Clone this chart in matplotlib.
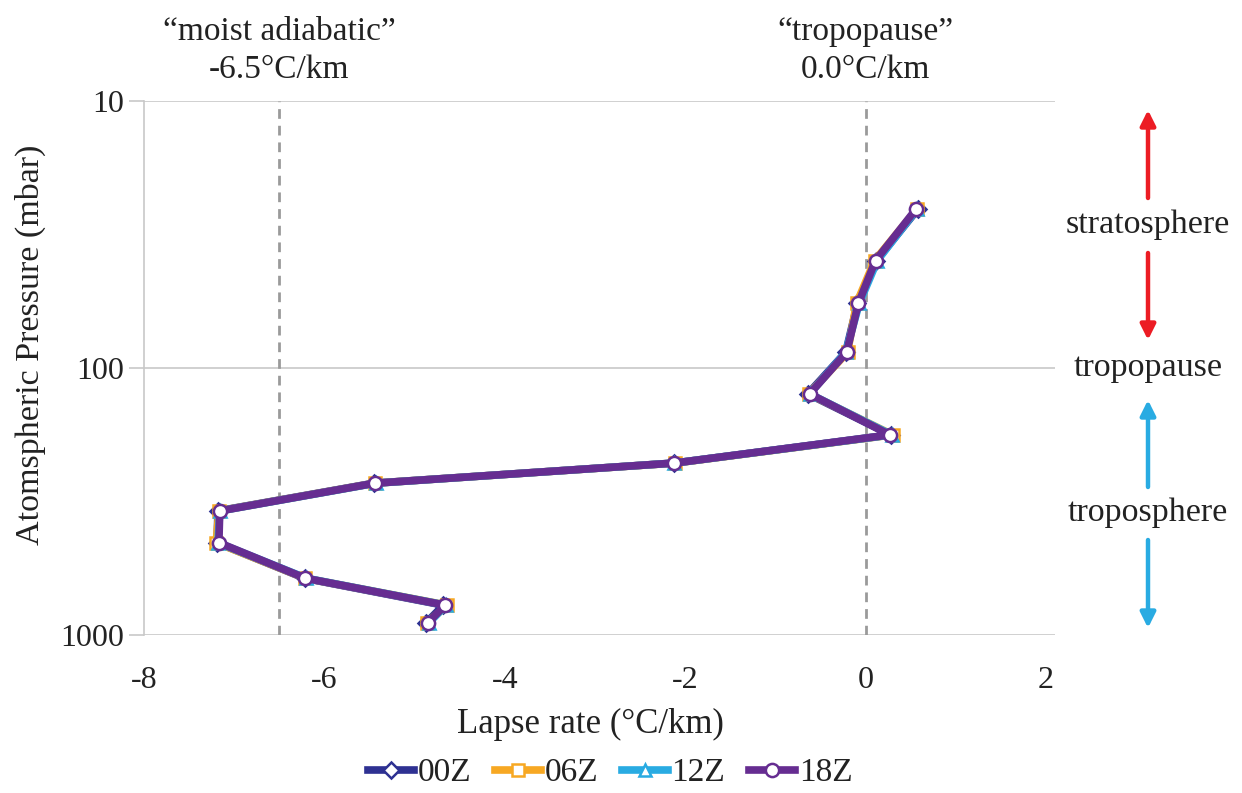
import matplotlib
matplotlib.use("Agg")
import matplotlib.pyplot as plt
from matplotlib.patches import FancyArrowPatch
from matplotlib.ticker import FixedLocator, NullLocator, FixedFormatter

plt.rcParams['font.family'] = ['Liberation Serif', 'DejaVu Serif']

# Pressure levels (mbar) and lapse rates (°C/km) for each synoptic hour
pressure = [25.4, 39.6, 57.3, 87.3, 125, 178, 227, 270, 343, 451, 613, 773, 899]
lapse_00z = [0.58, 0.12, -0.09, -0.22, -0.64, 0.28, -2.12, -5.45, -7.18, -7.19, -6.22, -4.68, -4.87]
lapse_06z = [0.57, 0.10, -0.10, -0.20, -0.63, 0.30, -2.11, -5.44, -7.17, -7.20, -6.21, -4.64, -4.86]
lapse_12z = [0.57, 0.13, -0.07, -0.22, -0.62, 0.29, -2.12, -5.43, -7.16, -7.18, -6.20, -4.65, -4.84]
lapse_18z = [0.56, 0.11, -0.08, -0.21, -0.62, 0.27, -2.12, -5.44, -7.16, -7.17, -6.21, -4.66, -4.85]

series_names = ["00Z", "06Z", "12Z", "18Z"]
series_values = [lapse_00z, lapse_06z, lapse_12z, lapse_18z]
series_colors = ["#2e3192", "#f7a823", "#29abe2", "#662d91"]
series_markers = ["D", "s", "^", "o"]
marker_sizes = [8, 8, 8, 9.5]

x_ticks = [-8, -6, -4, -2, 0, 2]
y_ticks = [10, 100, 1000]
moist_adiabatic = -6.5
tropopause_rate = 0.0

W, H = 1242, 793


def fy(py):
    return 1 - py / H


fig = plt.figure(figsize=(W / 100, H / 100), dpi=100)
ax = fig.add_axes([144 / W, fy(635), (1055 - 144) / W, (635 - 101) / H])

ax.set_yscale('log')
ax.set_ylim(1000, 10)
ax.set_xlim(-8, 2.1)

# horizontal gridlines at each decade
for yv in y_ticks:
    ax.axhline(yv, color='#c8c8c8', lw=1.2, zorder=0)

# reference lapse rates
for xv in (moist_adiabatic, tropopause_rate):
    ax.axvline(xv, color='#9a9a9a', lw=2.0, ls=(0, (3.5, 2.5)), zorder=1)

for name, vals, col, mk, ms in zip(series_names, series_values, series_colors,
                                   series_markers, marker_sizes):
    ax.plot(vals, pressure, color=col, lw=5.5, marker=mk, ms=ms,
            mfc='white', mec=col, mew=1.8, label=name, zorder=3,
            solid_joinstyle='round')

for s in ['top', 'right', 'bottom']:
    ax.spines[s].set_visible(False)
ax.spines['left'].set_color('#c8c8c8')
ax.spines['left'].set_linewidth(1.2)

ax.yaxis.set_major_locator(FixedLocator(y_ticks))
ax.yaxis.set_major_formatter(FixedFormatter([str(v) for v in y_ticks]))
ax.yaxis.set_minor_locator(NullLocator())
ax.tick_params(axis='y', which='major', length=11, width=1.2, color='#c8c8c8',
               labelsize=23, pad=3, labelcolor='#222222')
ax.set_xticks(x_ticks)
ax.set_xticklabels([str(v) for v in x_ticks])
ax.tick_params(axis='x', length=0, labelsize=23, pad=22, labelcolor='#222222')

ax.set_xlabel("Lapse rate (°C/km)", fontsize=25, color='#222222')
ax.xaxis.set_label_coords(590 / W, fy(708), transform=fig.transFigure)
ax.set_ylabel("Atomspheric Pressure (mbar)", fontsize=24.5, color='#222222')
ax.yaxis.set_label_coords(46 / W, fy(345), transform=fig.transFigure)

# labels for the reference lines
ax.text(moist_adiabatic, 1.03, "\u201cmoist adiabatic\u201d\n-6.5°C/km",
        transform=ax.get_xaxis_transform(), ha='center', va='bottom',
        fontsize=24, linespacing=1.3, color='#222222')
ax.text(tropopause_rate, 1.03, "\u201ctropopause\u201d\n0.0°C/km",
        transform=ax.get_xaxis_transform(), ha='center', va='bottom',
        fontsize=24, linespacing=1.3, color='#222222')

# atmospheric layer annotations on the right
xa = 1148 / W

for label, py in (("stratosphere", 225), ("tropopause", 368), ("troposphere", 513)):
    fig.text(xa, fy(py), label, ha='center', va='center', fontsize=24.5, color='#222222')


def arrow(y_from, y_to, color):
    fig.add_artist(FancyArrowPatch(
        (xa, fy(y_from)), (xa, fy(y_to)), transform=fig.transFigure,
        arrowstyle='-|>,head_length=9,head_width=4.5', color=color, lw=3.2,
        shrinkA=0, shrinkB=0))


arrow(198, 110, '#ec1c24')
arrow(253, 340, '#ec1c24')
arrow(487, 400, '#29abe2')
arrow(540, 628, '#29abe2')

leg = ax.legend(loc='center', bbox_to_anchor=(610 / W, fy(773)),
                bbox_transform=fig.transFigure,
                ncol=4, frameon=False, fontsize=24, handlelength=1.4,
                columnspacing=0.7, handletextpad=0.1, borderpad=0)
for t in leg.get_texts():
    t.set_color('#222222')

fig.savefig("out.png", dpi=100)
